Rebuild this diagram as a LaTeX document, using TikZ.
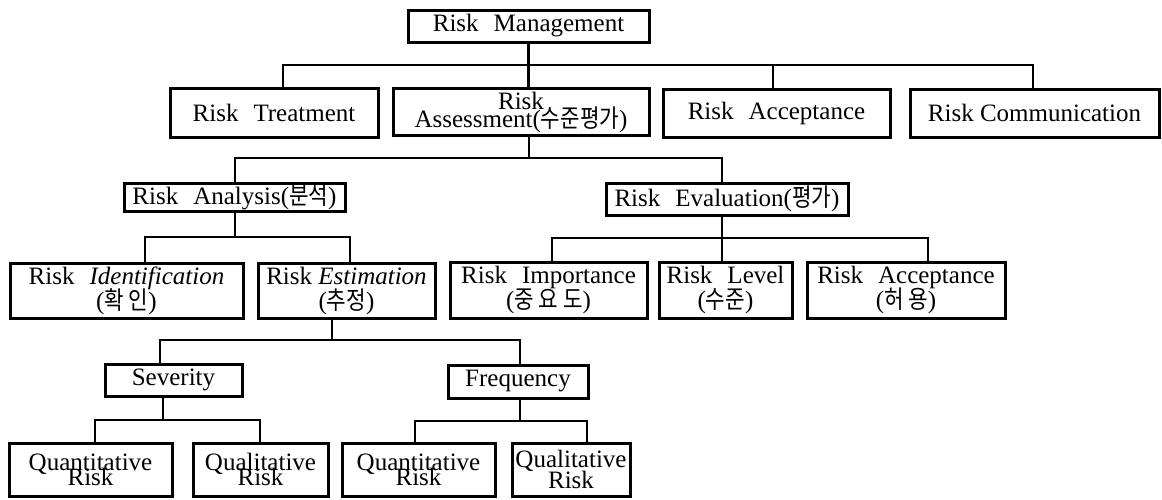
\documentclass[tikz,border=0pt]{standalone}
\usepackage{fontspec}
\setmainfont{Liberation Serif}
\newfontfamily\kofont[FakeStretch=0.85]{Noto Sans CJK KR}
\newcommand{\K}[1]{{\kofont #1}}
\newcommand{\ws}{\hspace{0.6em}}
\begin{document}
\begin{tikzpicture}[x=1pt,y=-1pt,
  box/.style={draw, line width=3pt, inner sep=0pt, align=center,
    font={\fontsize{25}{25}\selectfont\lineskiplimit=-100pt}},
  two/.style={font={\fontsize{25}{#1}\selectfont\lineskiplimit=-100pt}},
  conn/.style={line width=2.8pt}]
\useasboundingbox[fill=white] (0,0) rectangle (1162,499);
% level 1
\node[box, minimum width=241pt, minimum height=32pt] (RM) at (528.5,26) {Risk\ws Management};
% level 2
\node[box, minimum width=208pt, minimum height=49pt] (RT) at (274,112.5) {Risk\ws Treatment};
\node[box, two=18, minimum width=256pt, minimum height=47pt] (RAss) at (521,112) {Risk\\Assessment(\K{수준평가})};
\node[box, minimum width=227pt, minimum height=48pt] (RAcc) at (776.5,113) {Risk\ws Acceptance};
\node[box, minimum width=249pt, minimum height=48pt] (RComm) at (1034.5,113) {Risk Communication};
% level 3
\node[box, minimum width=221pt, minimum height=28pt] (RAn) at (234.5,197) {Risk\ws Analysis(\K{분석})};
\node[box, minimum width=242pt, minimum height=32pt] (REv) at (727,199) {Risk\ws Evaluation(\K{평가})};
% level 4
\node[box, two=25, minimum width=233pt, minimum height=55pt] (RI) at (126.5,290.5) {Risk\ws \textit{Identification}\\(\K{확 인})};
\node[box, two=25, minimum width=177pt, minimum height=55pt] (REs) at (346.5,290.5) {Risk \textit{Estimation}\\(\K{추정})};
\node[box, two=25, minimum width=197pt, minimum height=56pt] (RImp) at (548.5,290) {Risk\ws Importance\\(\K{중 요 도})};
\node[box, two=25, minimum width=133pt, minimum height=56pt] (RL) at (725.5,290) {Risk\ws Level\\(\K{수준})};
\node[box, two=25, minimum width=198pt, minimum height=56pt] (RAc2) at (906,290) {Risk\ws Acceptance\\(\K{허 용})};
% level 5
\node[box, minimum width=137pt, minimum height=32pt] (Sev) at (173.5,380) {Severity};
\node[box, minimum width=140pt, minimum height=33pt] (Freq) at (518,381.5) {Frequency};
% level 6
\node[box, two=15, minimum width=163pt, minimum height=53pt] (Q1) at (90.5,469.5) {Quantitative\\Risk};
\node[box, two=15, minimum width=135pt, minimum height=53pt] (Q2) at (260.5,469.5) {Qualitative\\Risk};
\node[box, two=15, minimum width=153pt, minimum height=53pt] (Q3) at (418.5,469.5) {Quantitative\\Risk};
\node[box, two=21, minimum width=118pt, minimum height=53pt] (Q4) at (571,469.5) {Qualitative\\Risk};
% junctions
\coordinate (a0) at (528.5,65);
\coordinate (a1) at (283,65);
\coordinate (a3) at (773,65);
\coordinate (a4) at (1033,65);
\coordinate (b0) at (529,158);
\coordinate (b1) at (235,158);
\coordinate (b2) at (722,158);
\coordinate (c0) at (235,237);
\coordinate (c1) at (145,237);
\coordinate (c2) at (350,237);
\coordinate (d0) at (722,238);
\coordinate (d1) at (552,238);
\coordinate (d3) at (928,238);
\coordinate (e0) at (332,340);
\coordinate (e1) at (160,340);
\coordinate (e2) at (520,340);
\coordinate (f0) at (163,420);
\coordinate (f1) at (95,420);
\coordinate (f2) at (260,420);
\coordinate (g0) at (520,421);
\coordinate (g1) at (415,421);
\coordinate (g2) at (587,421);
% connectors
\draw[conn] (RM.south) -- (RAss.north -| a0);
\draw[conn] (RT.north -| a1) -- (a1) -- (a4) -- (RComm.north -| a4);
\draw[conn] (a3) -- (RAcc.north -| a3);
\draw[conn] (RAss.south -| b0) -- (b0);
\draw[conn] (RAn.north -| b1) -- (b1) -- (b2) -- (REv.north -| b2);
\draw[conn] (RAn.south -| c0) -- (c0);
\draw[conn] (RI.north -| c1) -- (c1) -- (c2) -- (REs.north -| c2);
\draw[conn] (REv.south -| d0) -- (RL.north -| d0);
\draw[conn] (RImp.north -| d1) -- (d1) -- (d3) -- (RAc2.north -| d3);
\draw[conn] (REs.south -| e0) -- (e0);
\draw[conn] (Sev.north -| e1) -- (e1) -- (e2) -- (Freq.north -| e2);
\draw[conn] (Sev.south -| f0) -- (f0);
\draw[conn] (Q1.north -| f1) -- (f1) -- (f2) -- (Q2.north -| f2);
\draw[conn] (Freq.south -| g0) -- (g0);
\draw[conn] (Q3.north -| g1) -- (g1) -- (g2) -- (Q4.north -| g2);
\end{tikzpicture}
\end{document}
